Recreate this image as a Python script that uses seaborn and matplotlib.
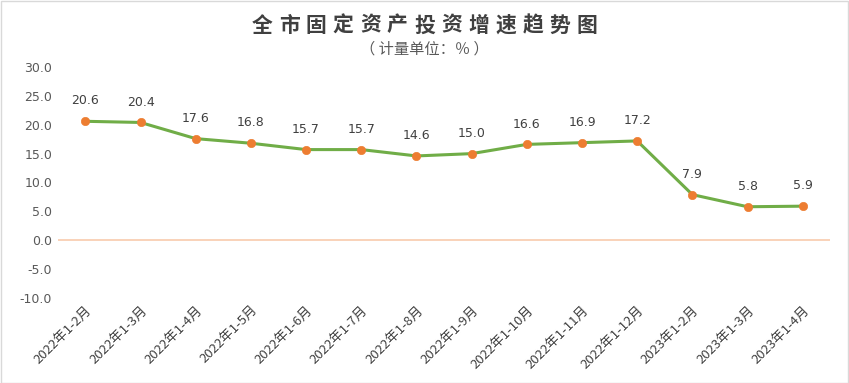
import numpy as np
import pandas as pd
import seaborn as sns
import matplotlib
matplotlib.use('Agg')
from matplotlib import pyplot as plt
from matplotlib.patches import Rectangle
from matplotlib.transforms import ScaledTranslation

months = ['2022年1-2月', '2022年1-3月', '2022年1-4月', '2022年1-5月', '2022年1-6月',
          '2022年1-7月', '2022年1-8月', '2022年1-9月', '2022年1-10月', '2022年1-11月',
          '2022年1-12月', '2023年1-2月', '2023年1-3月', '2023年1-4月']
growth = [20.6, 20.4, 17.6, 16.8, 15.7, 15.7, 14.6, 15.0, 16.6, 16.9, 17.2, 7.9, 5.8, 5.9]
yticks = [-10, -5, 0, 5, 10, 15, 20, 25, 30]

title = '全市固定资产投资增速趋势图'
subtitle = '（ 计量单位：％ ）'

sns.set_style('white')
plt.rcParams['font.family'] = ['Noto Sans CJK SC', 'DejaVu Sans']
plt.rcParams['axes.unicode_minus'] = False

df = pd.DataFrame({'month': months, 'growth': growth})
n = len(df)

fig = plt.figure(figsize=(8.49, 3.83), dpi=100)
ax = fig.add_axes([0.068, 0.222, 0.91, 0.603])

ax.axhline(0, color='#F8CBAD', lw=1.2, zorder=1)
sns.lineplot(data=df, x='month', y='growth', ax=ax, color='#70AD47', lw=2.2,
             sort=False, zorder=2)
sns.scatterplot(data=df, x='month', y='growth', ax=ax, color='#ED7D31', s=36,
                edgecolor='#ED7D31', zorder=3)

for i, v in enumerate(df['growth']):
  ax.annotate('{:.1f}'.format(v), (i, v), xytext=(0, 10), textcoords='offset points',
              ha='center', va='bottom', fontsize=9, color='#404040',
              family='DejaVu Sans')

ax.set_xlim(-0.5, n - 0.5)
ax.set_ylim(-10, 30)
ax.set_yticks(yticks)
ax.set_yticklabels(['{:.1f}'.format(t) for t in yticks], family='DejaVu Sans',
                   fontsize=9, color='#595959')
ax.set_xticks(range(n))
ax.set_xticklabels(df['month'], rotation=45, ha='right', rotation_mode='anchor',
                   fontsize=9.5, color='#404040')
shift = ScaledTranslation(6 / 72., -8 / 72., fig.dpi_scale_trans)
for lab in ax.get_xticklabels():
  lab.set_transform(lab.get_transform() + shift)
ax.tick_params(axis='both', length=0, pad=4)
ax.set_xlabel('')
ax.set_ylabel('')
for s in ax.spines.values():
  s.set_visible(False)

# spaced-out title, one character at a time
x0, x1 = 262 / 849., 587 / 849.
for k, ch in enumerate(title):
  fig.text(x0 + (x1 - x0) * k / (len(title) - 1), 1 - 25 / 383., ch,
           ha='center', va='center', fontsize=15, fontweight='bold', color='#404040')
fig.text(0.5, 1 - 49 / 383., subtitle, ha='center', va='center', fontsize=11,
         color='#595959')

fig.patches.append(Rectangle((0.001, 0.001), 0.998, 0.997, transform=fig.transFigure,
                             fill=False, edgecolor='#D9D9D9', lw=1))

fig.savefig('out.png', dpi=100)
